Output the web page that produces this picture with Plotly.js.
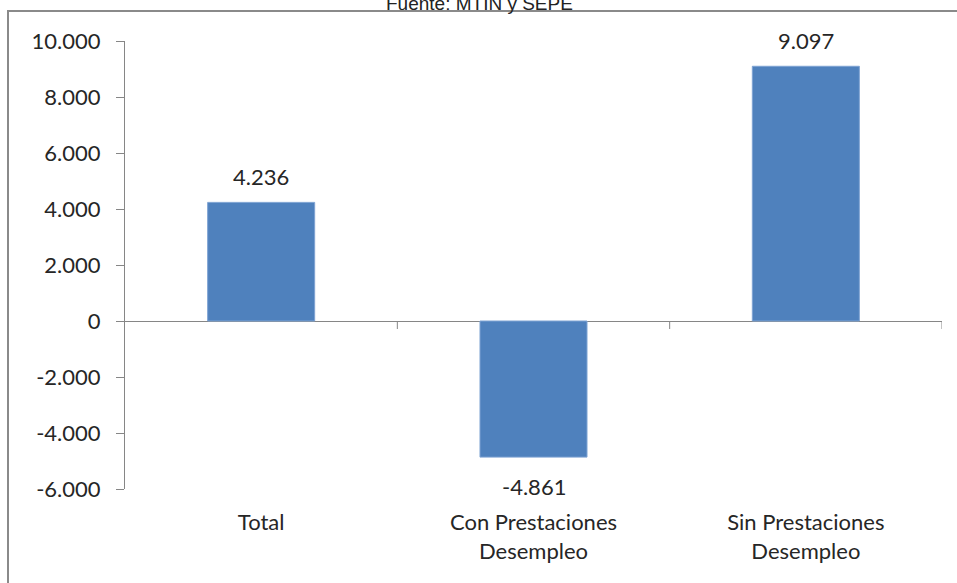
<!DOCTYPE html>
<html>
<head>
<meta charset="utf-8">
<script src="https://cdn.plot.ly/plotly-3.0.1.min.js"></script>
<style>
html,body{margin:0;padding:0;background:#fff;}
#chart{width:957px;height:583px;}
</style>
</head>
<body>
<div id="chart"></div>
<script>
const categories = ['Total', 'Con Prestaciones<br>Desempleo', 'Sin Prestaciones<br>Desempleo'];
const values = [4236, -4861, 9097];
const valueLabels = ['4.236', '-4.861', '9.097'];
const yTickVals = [-6000, -4000, -2000, 0, 2000, 4000, 6000, 8000, 10000];
const yTickText = ['-6.000', '-4.000', '-2.000', '0', '2.000', '4.000', '6.000', '8.000', '10.000'];
const sourceText = 'Fuente: MTIN y SEPE';

const W = 957, H = 583;
const m = {l: 125, r: 15, t: 41, b: 94};
const pw = W - m.l - m.r, ph = H - m.t - m.b;
const px2x = p => (p - m.l) / pw;
const py2y = p => (H - m.b - p) / ph;

const font = 'Lato, "Open Sans", sans-serif';
const axisGray = '#868686';
const textColor = '#262626';

const trace = {
  type: 'bar',
  x: categories,
  y: values,
  marker: {color: '#4F81BD', line: {color: '#7FA3D3', width: 1}},
  hoverinfo: 'skip'
};

const annotations = values.map((v, i) => ({
  x: categories[i], y: v, xref: 'x', yref: 'y',
  text: valueLabels[i], showarrow: false,
  yanchor: 'middle',
  yshift: v >= 0 ? 26 : -29,
  font: {family: font, size: 22, color: textColor}
}));
annotations.push({
  x: px2x(479), y: py2y(4), xref: 'paper', yref: 'paper',
  xanchor: 'center', yanchor: 'middle',
  text: sourceText, showarrow: false,
  font: {family: '"Liberation Sans", Arial, sans-serif', size: 19, color: '#222'}
});

const shapes = [];
[0.5, 1.5, 2.5].forEach(b => {
  shapes.push({type: 'line', xref: 'x', yref: 'y', ysizemode: 'pixel', yanchor: 0,
    x0: b, x1: b, y0: 0, y1: -8, line: {color: axisGray, width: 1}});
});
// frame
shapes.push({type: 'line', xref: 'paper', yref: 'paper',
  x0: px2x(8), x1: px2x(8), y0: py2y(11), y1: py2y(600), line: {color: '#8a8a8a', width: 2}});
shapes.push({type: 'line', xref: 'paper', yref: 'paper',
  x0: px2x(7), x1: px2x(970), y0: py2y(11), y1: py2y(11), line: {color: '#8a8a8a', width: 2}});

const layout = {
  width: W, height: H,
  margin: m,
  paper_bgcolor: '#fff', plot_bgcolor: '#fff',
  showlegend: false,
  bargap: 0.607,
  xaxis: {
    type: 'category', range: [-0.5, 2.5],
    showline: false, ticks: '', showgrid: false, zeroline: false,
    tickfont: {family: font, size: 22, color: textColor},
    ticklabelstandoff: 18,
    fixedrange: true
  },
  yaxis: {
    range: [-6000, 10000],
    tickvals: yTickVals, ticktext: yTickText,
    showline: true, linecolor: axisGray, linewidth: 1,
    ticks: 'outside', ticklen: 8, tickcolor: axisGray, tickwidth: 1,
    showgrid: false,
    zeroline: true, zerolinecolor: axisGray, zerolinewidth: 1,
    tickfont: {family: font, size: 22, color: textColor},
    ticklabelstandoff: 11,
    fixedrange: true
  },
  annotations: annotations,
  shapes: shapes
};

Plotly.newPlot('chart', [trace], layout, {displayModeBar: false, staticPlot: true});
</script>
</body>
</html>
